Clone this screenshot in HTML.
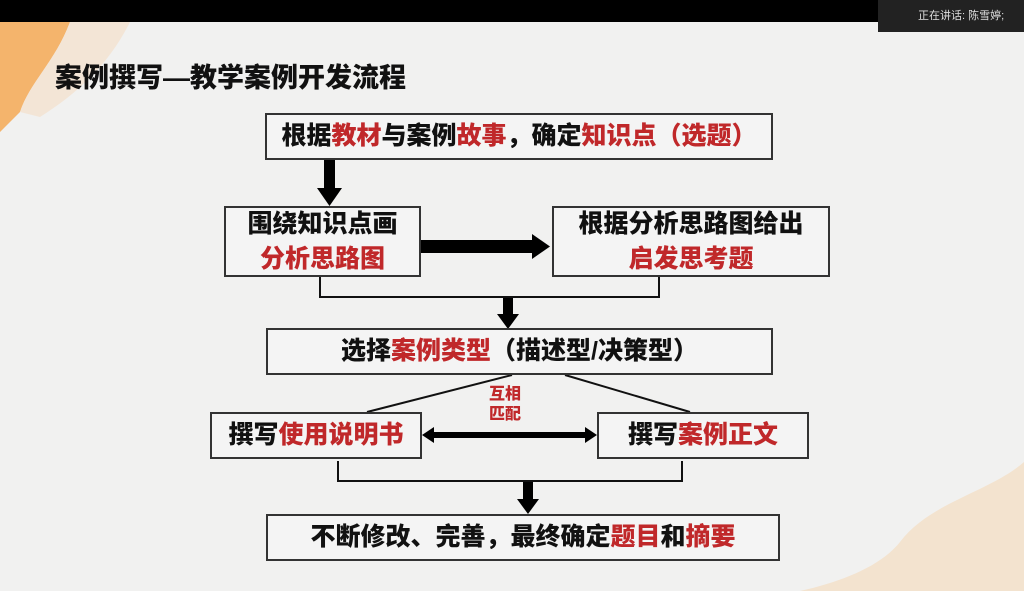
<!DOCTYPE html>
<html><head><meta charset="utf-8"><style>
*{margin:0;padding:0;box-sizing:border-box}
body{width:1024px;height:591px;overflow:hidden;background:#000;position:relative;font-family:"Liberation Sans","Noto Sans CJK SC",sans-serif}
.slide{position:absolute;left:0;top:22px;width:1024px;height:569px;background:#f1f1f0;overflow:hidden}
.box{position:absolute;border:2px solid #333;background:#f4f4f4;display:flex;align-items:center;justify-content:center;flex-direction:column;font-weight:900;color:#111;font-size:25px;line-height:1.4;white-space:nowrap}
.r{color:#c0282a}
.t{position:absolute;font-weight:900;font-size:24px;color:#111}
</style></head><body>
<div class="slide">
<svg width="1024" height="569" style="position:absolute;left:0;top:0">
<path d="M0,0 L70,0 C55,40 30,60 20,90 L0,110 Z" fill="#f4b46c"/>
<path d="M70,0 L130,0 C110,40 80,70 40,95 L20,90 C30,60 55,40 70,0Z" fill="#f3e5d6"/>
<path d="M1024,440 C990,470 930,480 900,520 C880,545 840,560 800,569 L1024,569Z" fill="#f3e3cf"/>
</svg>
</div>
<div style="position:absolute;left:878px;top:0;width:146px;height:32px;background:#222;color:#ddd;font-size:11px;line-height:32px;padding-left:40px">正在讲话: 陈雪婷;</div>
<div class="t" style="left:55px;top:56px;font-size:27px">案例撰写—教学案例开发流程</div>
<svg width="1024" height="591" style="position:absolute;left:0;top:0">
<g fill="#000" stroke="none">
<rect x="324" y="160" width="11" height="28"/><polygon points="317,188 342,188 329.5,206"/>
<rect x="421" y="240" width="112" height="13"/><polygon points="532,234 550,246.5 532,259"/>
<rect x="503" y="297" width="10" height="18"/><polygon points="497,314 519,314 508,329"/>
<rect x="523" y="482" width="10" height="18"/><polygon points="517,499 539,499 528,514"/>
<rect x="432" y="432" width="155" height="6"/><polygon points="422,435 434,427 434,443"/><polygon points="597,435 585,427 585,443"/>
</g>
<g fill="none" stroke="#111" stroke-width="2">
<polyline points="320,277 320,297 659,297 659,277"/>
<polyline points="338,461 338,481 682,481 682,461"/>
<line x1="512" y1="375" x2="367" y2="412"/>
<line x1="565" y1="375" x2="690" y2="412"/>
</g>
</svg>
<div class="box" style="left:265px;top:113px;width:508px;height:47px">
<div>根据<span class="r">教材</span>与案例<span class="r">故事</span>，确定<span class="r">知识点（选题）</span></div></div>
<div class="box" style="left:224px;top:206px;width:197px;height:71px"><div>围绕知识点画</div><div class="r">分析思路图</div></div>
<div class="box" style="left:552px;top:206px;width:278px;height:71px"><div>根据分析思路图给出</div><div class="r">启发思考题</div></div>
<div class="box" style="left:266px;top:328px;width:507px;height:47px"><div>选择<span class="r">案例类型</span>（描述型/决策型）</div></div>
<div style="position:absolute;left:489px;top:385px;font-size:16px;font-weight:900;color:#c0282a;line-height:20px;text-align:center">互相<br>匹配</div>
<div class="box" style="left:210px;top:412px;width:212px;height:47px"><div>撰写<span class="r">使用说明书</span></div></div>
<div class="box" style="left:597px;top:412px;width:212px;height:47px"><div>撰写<span class="r">案例正文</span></div></div>
<div class="box" style="left:266px;top:514px;width:514px;height:47px"><div>不断修改、完善，最终确定<span class="r">题目</span>和<span class="r">摘要</span></div></div>
</body></html>
